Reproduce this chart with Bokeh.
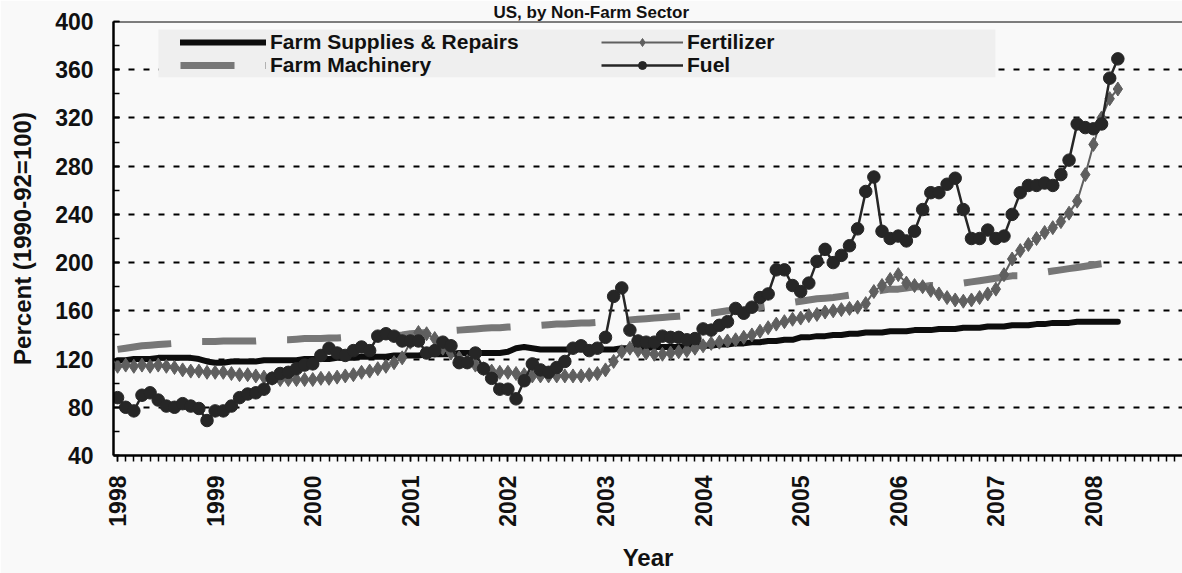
import numpy as np
from bokeh.plotting import figure
from bokeh.models import (Range1d, FixedTicker, Legend, LegendItem, Title,
                          Span, BoxAnnotation)
from bokeh.embed import file_html
from bokeh.resources import INLINE
from bokeh.core.properties import value

# ---------------- data (monthly, Jan 1998 - Apr 2008) ----------------
years = ["1998", "1999", "2000", "2001", "2002", "2003",
         "2004", "2005", "2006", "2007", "2008"]

supplies = [
    119, 119, 120, 120, 120, 121, 121, 121, 121, 121, 120, 118,
    117, 117, 118, 118, 118, 118, 119, 119, 119, 119, 119, 120,
    120, 120, 120, 121, 121, 121, 122, 122, 122, 122, 123, 123,
    123, 123, 124, 124, 124, 124, 125, 125, 125, 125, 125, 125,
    126, 129, 130, 129, 128, 128, 128, 128, 128, 128, 128, 128,
    128, 128, 129, 129, 129, 129, 130, 130, 130, 130, 130, 131,
    131, 131, 132, 132, 133, 133, 134, 134, 135, 135, 136, 136,
    138, 138, 139, 139, 140, 140, 141, 141, 142, 142, 142, 143,
    143, 143, 144, 144, 144, 145, 145, 145, 146, 146, 146, 147,
    147, 147, 148, 148, 148, 149, 149, 150, 150, 150, 151, 151,
    151, 151, 151, 151,
]

machinery = [
    128, 129, 130, 131, 131.5, 132, 132.5, 133, 133.5, 134, 134.5, 134.5,
    134.5, 135, 135, 135, 135, 135, 135.5, 135.5, 136, 136, 136.5, 137,
    137, 137, 137.5, 137.5, 138, 138, 138, 138.5, 139, 139, 139.5, 140,
    141, 141.5, 142, 142.5, 143, 143.5, 144, 144.5, 145, 145.5, 146, 146,
    146.5, 147, 147, 147.5, 148, 148.5, 149, 149, 149.5, 150, 150, 150.5,
    151, 151.5, 152, 152.5, 153, 153.5, 154, 154.5, 155, 155.5, 156, 157,
    157.5, 158, 159, 160, 160.5, 161, 162, 163, 164, 165, 166, 167,
    168, 169, 170, 170.5, 171, 172, 173, 174, 175, 176, 177, 178,
    178, 179, 180, 180, 181, 181, 182, 183, 183, 184, 185, 186,
    187, 188, 189, 189, 190, 191, 192, 193, 194, 195, 196, 197,
    198, 199, 200, 201,
]

fertilizer = [
    114, 115, 114, 115, 114, 115, 114, 113, 111, 110, 110, 109,
    109, 109, 108, 107, 107, 106, 105, 104, 103, 103, 103, 103,
    103, 104, 104, 105, 106, 107, 109, 110, 112, 114, 117, 121,
    134, 142, 141, 137, 129, 125, 121, 118, 115, 112, 110, 109,
    109, 108, 107, 106, 106, 106, 106, 106, 106, 106, 107, 108,
    111, 118, 126, 129, 127, 125, 124, 124, 125, 126, 127, 129,
    131, 133, 134, 135, 136, 138, 140, 143, 146, 149, 151, 153,
    154, 156, 157, 159, 160, 161, 162, 163, 166, 176, 181, 186,
    190, 183, 181, 180, 177, 174, 171, 169, 168, 169, 171, 174,
    178, 190, 203, 210, 215, 220, 225, 229, 234, 241, 251, 273,
    298, 320, 336, 344,
]

fuel = [
    88, 80, 77, 90, 92, 86, 81, 80, 83, 81, 79, 69,
    77, 77, 81, 88, 91, 92, 95, 104, 108, 109, 112, 115,
    116, 123, 129, 125, 123, 127, 130, 127, 139, 141, 139, 135,
    135, 135, 125, 127, 134, 131, 117, 117, 125, 112, 104, 95,
    95, 87, 102, 116, 111, 109, 113, 118, 129, 131, 127, 129,
    138, 172, 179, 144, 135, 134, 134, 139, 138, 138, 136, 137,
    145, 144, 148, 151, 162, 158, 163, 171, 174, 194, 194, 181,
    176, 183, 201, 211, 200, 206, 214, 228, 259, 271, 226, 220,
    222, 218, 226, 244, 258, 258, 265, 270, 244, 220, 220, 227,
    220, 222, 240, 258, 264, 264, 266, 264, 273, 285, 315, 312,
    311, 315, 353, 369,
]

month_index = list(range(len(fuel)))

# ---------------- styling ----------------
FONT = "Liberation Sans"
BG = "#f9f9f9"
TXT = "#111111"

title = Title(text="US, by Non-Farm Sector", align="left", offset=380,
              standoff=0, text_font=FONT, text_font_style="bold",
              text_font_size="17px", text_color=TXT)

p = figure(width=1182, height=573, output_backend="svg", toolbar_location=None,
           x_range=Range1d(-0.5, 130.95), y_range=Range1d(40, 400),
           min_border_left=113, min_border_right=0,
           min_border_top=20, min_border_bottom=118,
           background_fill_color=BG, border_fill_color=BG, title=title)
p.outline_line_color = None

# grid
p.xgrid.visible = False
p.ygrid.grid_line_color = "black"
p.ygrid.grid_line_dash = "6 9"
p.ygrid.grid_line_width = 2

# series
r_mach = p.line(month_index, machinery, line_color="#777777", line_width=7,
                line_dash="54 31")
r_sup = p.line(month_index, supplies, line_color="#0d0d0d", line_width=6,
               line_cap="round", line_join="round")
r_fert_l = p.line(month_index, fertilizer, line_color="#606060", line_width=2)
r_fert_m = p.scatter(month_index, fertilizer, marker="diamond", size=14,
                     fill_color="#5f5f5f", line_color="#5f5f5f")
r_fuel_l = p.line(month_index, fuel, line_color="#262626", line_width=2.5)
r_fuel_m = p.scatter(month_index, fuel, marker="circle", size=12.5,
                     fill_color="#262626", line_color="#262626")

# top border
p.add_layout(Span(location=400, dimension="width", line_color="black",
                  line_width=2))

# x axis
xa = p.xaxis[0]
xa.ticker = FixedTicker(ticks=[12 * i for i in range(len(years))],
                        minor_ticks=list(range(0, 132)))
xa.major_label_overrides = {12 * i: y for i, y in enumerate(years)}
xa.major_label_orientation = np.pi / 2
xa.major_tick_in = 0
xa.major_tick_out = 6
xa.minor_tick_in = 0
xa.minor_tick_out = 6
xa.major_tick_line_width = 1.5
xa.minor_tick_line_width = 1.5
xa.axis_line_width = 2.5
xa.axis_line_color = "black"
xa.major_label_standoff = 14
xa.major_label_text_font = FONT
xa.major_label_text_font_style = "bold"
xa.major_label_text_font_size = "23px"
xa.major_label_text_color = TXT
xa.axis_label = "Year"
xa.axis_label_text_font = FONT
xa.axis_label_text_font_style = "bold"
xa.axis_label_text_font_size = "24px"
xa.axis_label_text_color = TXT
xa.axis_label_standoff = 14

# y axis
ya = p.yaxis[0]
ya.ticker = FixedTicker(ticks=list(range(40, 401, 40)),
                        minor_ticks=list(range(40, 401, 20)))
ya.major_tick_in = 6
ya.major_tick_out = 0
ya.minor_tick_in = 6
ya.minor_tick_out = 0
ya.major_tick_line_width = 1.5
ya.minor_tick_line_width = 1.5
ya.axis_line_width = 2.5
ya.axis_line_color = "black"
ya.major_label_standoff = 20
ya.major_label_text_font = FONT
ya.major_label_text_font_style = "bold"
ya.major_label_text_font_size = "23px"
ya.major_label_text_color = TXT
ya.axis_label = "Percent (1990-92=100)"
ya.axis_label_text_font = FONT
ya.axis_label_text_font_style = "bold"
ya.axis_label_text_font_size = "24px"
ya.axis_label_text_color = TXT
ya.axis_label_standoff = 16

# legend background box
p.add_layout(BoxAnnotation(left=5.03, right=107.95, top=393.4, bottom=353.7,
                           fill_color="#efefef", fill_alpha=1.0,
                           line_alpha=0.0))

common = dict(label_text_font=FONT, label_text_font_style="bold",
              label_text_font_size="21px", label_text_color=TXT,
              label_height=20, glyph_height=20, label_standoff=4,
              padding=0, spacing=0, margin=0,
              background_fill_alpha=0.0, border_line_alpha=0.0)

legend_rows = [
    ("Farm Supplies & Repairs", [r_sup], (67, 401.3), 86),
    ("Farm Machinery", [r_mach], (67, 377.8), 86),
    ("Fertilizer", [r_fert_l, r_fert_m], (488, 401.3), 82),
    ("Fuel", [r_fuel_l, r_fuel_m], (488, 377.8), 82),
]
for lab, rends, loc, gw in legend_rows:
    p.add_layout(Legend(items=[LegendItem(label=value(lab), renderers=rends)],
                        location=loc, glyph_width=gw, **common))

open("out.html", "w").write(file_html(p, INLINE))
